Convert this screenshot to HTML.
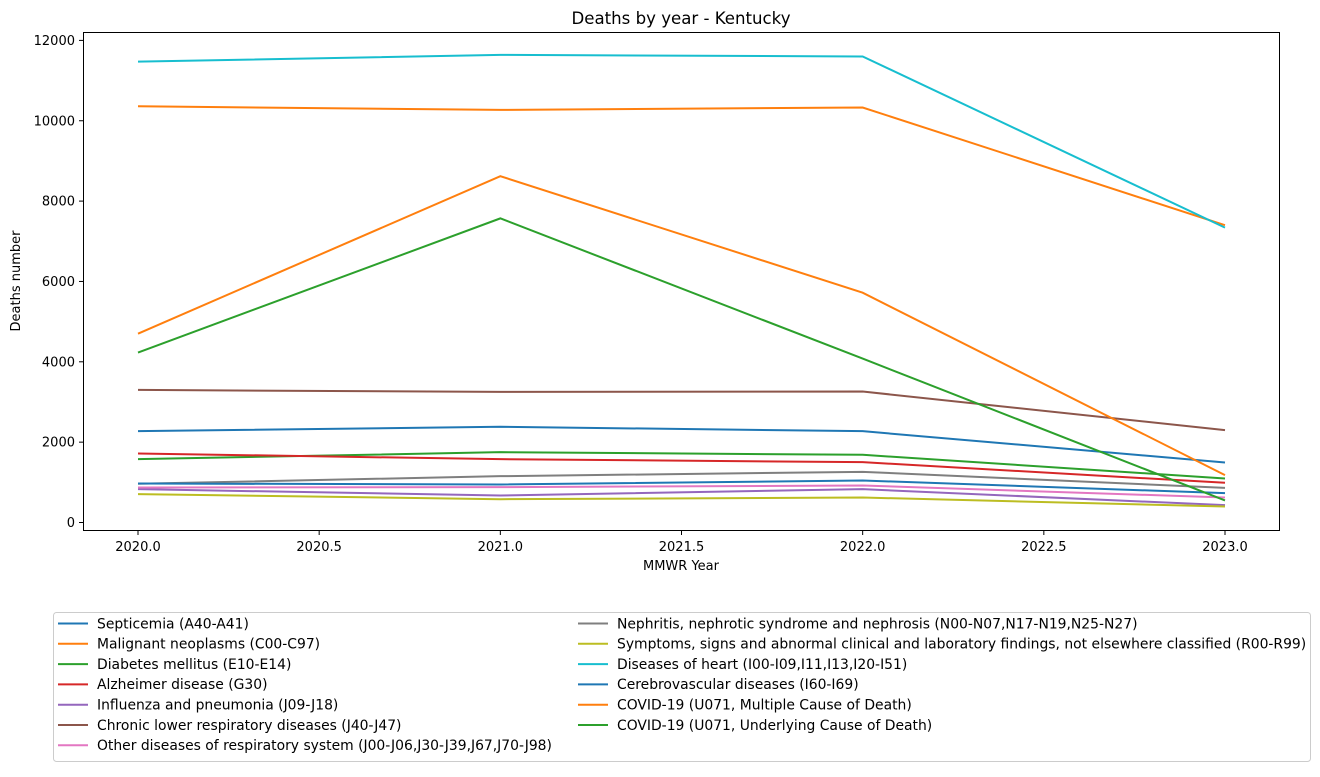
<!DOCTYPE html>
<html><head><meta charset="utf-8"><style>
body{margin:0;background:#fff;font-family:"Liberation Sans","DejaVu Sans",sans-serif;}
svg text{font-family:"DejaVu Sans","Liberation Sans",sans-serif;}
</style></head><body>
<svg id="chart" width="1320" height="772" xmlns="http://www.w3.org/2000/svg">
<rect width="1320" height="772" fill="#fff"/>
<text x="681" y="24" font-size="16.6" text-anchor="middle">Deaths by year - Kentucky</text>
<g id="grid"></g>
<g id="lines"></g>
<rect x="83.5" y="32.5" width="1196" height="498" fill="none" stroke="#000" stroke-width="1"/>
<text x="681" y="570" font-size="13" text-anchor="middle">MMWR Year</text>
<text transform="translate(20,281) rotate(-90)" font-size="13" text-anchor="middle">Deaths number</text>
<rect x="53.5" y="612.5" width="1257" height="149" fill="#fff" stroke="#ccc" rx="3"/>
<g id="legend"></g>
</svg>
<script>
const years=[2020,2021,2022,2023];
const seriesNames=["Septicemia (A40-A41)","Malignant neoplasms (C00-C97)","Diabetes mellitus (E10-E14)","Alzheimer disease (G30)","Influenza and pneumonia (J09-J18)","Chronic lower respiratory diseases (J40-J47)","Other diseases of respiratory system (J00-J06,J30-J39,J67,J70-J98)","Nephritis, nephrotic syndrome and nephrosis (N00-N07,N17-N19,N25-N27)","Symptoms, signs and abnormal clinical and laboratory findings, not elsewhere classified (R00-R99)","Diseases of heart (I00-I09,I11,I13,I20-I51)","Cerebrovascular diseases (I60-I69)","COVID-19 (U071, Multiple Cause of Death)","COVID-19 (U071, Underlying Cause of Death)"];
const septicemia=[2273,2382,2273,1494];
const malignant=[10360,10270,10330,7400];
const diabetes=[1576,1751,1685,1095];
const alzheimer=[1718,1576,1502,988];
const influenza=[830,672,830,431];
const chronicLower=[3300,3250,3260,2300];
const otherResp=[871,880,921,622];
const nephritis=[963,1153,1261,863];
const symptoms=[705,580,622,398];
const heart=[11471,11640,11600,7340];
const cerebro=[971,946,1045,730];
const covidMultiple=[4700,8620,5720,1180];
const covidUnderlying=[4230,7570,4080,548];
const seriesValues=[septicemia,malignant,diabetes,alzheimer,influenza,chronicLower,otherResp,nephritis,symptoms,heart,cerebro,covidMultiple,covidUnderlying];
const colors=["#1f77b4","#ff7f0e","#2ca02c","#d62728","#9467bd","#8c564b","#e377c2","#7f7f7f","#bcbd22","#17becf","#1f77b4","#ff7f0e","#2ca02c"];
const yTicks=[0,2000,4000,6000,8000,10000,12000];
const xTicks=[2020,2020.5,2021,2021.5,2022,2022.5,2023];
const xTickLabels=["2020.0","2020.5","2021.0","2021.5","2022.0","2022.5","2023.0"];
const NS="http://www.w3.org/2000/svg";
function xs(v){return 138+(v-2020)*(1225-138)/3;}
function ys(v){return 522.5-v*0.040175;}
function mk(tag,attrs,parent){const e=document.createElementNS(NS,tag);for(const k in attrs)e.setAttribute(k,attrs[k]);parent.appendChild(e);return e;}
const grid=document.getElementById('grid');
yTicks.forEach(t=>{
  const l=mk('line',{x1:79,x2:83,y1:ys(t),y2:ys(t),stroke:'#000'},grid);
  
  
  const tx=mk('text',{x:75,y:ys(t)+4.5,'font-size':13,'text-anchor':'end'},grid);
  tx.textContent=t;
  
  
});
xTicks.forEach((t,i)=>{
  const l=mk('line',{x1:xs(t),x2:xs(t),y1:530.5,y2:535,stroke:'#000'},grid);
  
  
  const tx=mk('text',{x:xs(t),y:551,'font-size':13,'text-anchor':'middle'},grid);
  tx.textContent=xTickLabels[i];
  
  
});
const lines=document.getElementById('lines');
const legend=document.getElementById('legend');
seriesValues.forEach((vals,i)=>{
  const pts=vals.map((v,j)=>xs(years[j])+','+ys(v)).join(' ');
  const p=mk('polyline',{points:pts,fill:'none',stroke:colors[i],'stroke-width':2},lines);
  
  
  const col=i<7?0:1,row=i<7?i:i-7;
  const lx=col?578:58, ly=623.5+row*20.3;
  const g=mk('g',{},legend);
  
  
  mk('line',{x1:lx,x2:lx+30,y1:ly,y2:ly,stroke:colors[i],'stroke-width':2},g);
  const t=mk('text',{x:lx+39,y:ly+4.8,'font-size':13.9},g);
  t.textContent=seriesNames[i];
});
</script>
</body></html>
